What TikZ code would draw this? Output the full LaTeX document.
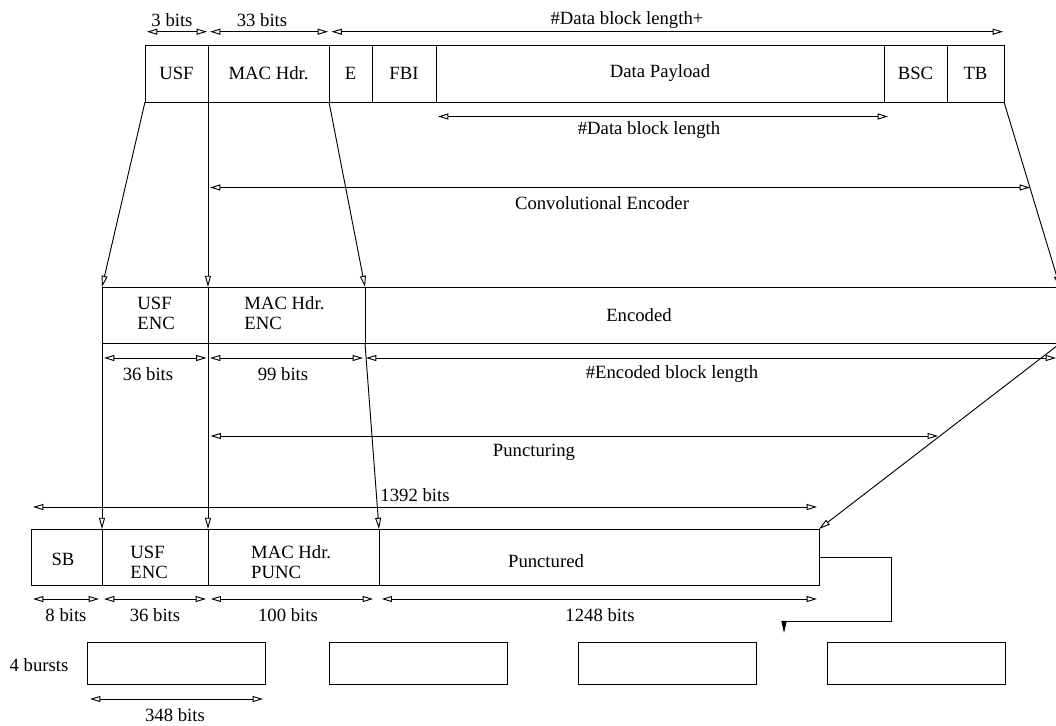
\documentclass[tikz,border=0pt]{standalone}
\usepackage{fontspec}
\setmainfont{Liberation Serif}
\usetikzlibrary{arrows.meta}

\begin{document}
\begin{tikzpicture}[x=0.535pt, y=-0.535pt, line width=0.5pt,
    font=\fontsize{10}{10.7}\selectfont,
    lbl/.style={inner sep=0pt},
    dim/.style={{Triangle[open,length=5.5pt,width=3.2pt]}-{Triangle[open,length=5.5pt,width=3.2pt]}},
    map/.style={-{Triangle[open,length=6pt,width=3.2pt]}}]
  \useasboundingbox (0,0) rectangle (1056,725);
  \clip (0,0) rectangle (1056,725);

  % Block
  \foreach \n/\x in {a/145, b/208, c/329, d/372, e/436, f/884, g/947, h/1004} {
    \coordinate (T\n) at (\x,45.5);
    \coordinate (B\n) at (\x,102);
  }
  \draw (Ta) rectangle (Bh);
  \foreach \n in {b,c,d,e,f,g} \draw (T\n) -- (B\n);
  \node[lbl] (usf) at (176.5,73) {USF};
  \node[lbl] (mac) at (268.5,73) {MAC Hdr.};
  \node[lbl] (e) at (350.5,73) {E};
  \node[lbl] (fbi) at (404,73) {FBI};
  \node[lbl] (payload) at (660,73) {Data Payload};
  \node[lbl] (bsc) at (915.5,73) {BSC};
  \node[lbl] (tb) at (975.5,73) {TB};

  % Lengths of the block
  \coordinate (l1a) at (147,31.7);   \coordinate (l1b) at (207,31.7);
  \coordinate (l2a) at (210,31.7);   \coordinate (l2b) at (328,31.7);
  \coordinate (l3a) at (331.5,31.7); \coordinate (l3b) at (1003,31.7);
  \coordinate (l4a) at (438,116.5);  \coordinate (l4b) at (888,116.5);
  \draw[dim] (l1a) -- (l1b);
  \draw[dim] (l2a) -- (l2b);
  \draw[dim] (l3a) -- (l3b);
  \draw[dim] (l4a) -- (l4b);
  \node[lbl] (usflen) at (172,20) {3 bits};
  \node[lbl] (maclen) at (262,20) {33 bits};
  \node[lbl] (datalenplus) at (627,20) {\#Data block length+};
  \node[lbl] (datalen) at (649,130) {\#Data block length};

  % Convolutional Encoder
  \coordinate (conva) at (210,187.5); \coordinate (convb) at (1030,187.5);
  \draw[dim] (conva) -- (convb);
  \node[lbl] (conv) at (602,203) {Convolutional Encoder};

  % Encoded
  \foreach \n/\x in {a/102, b/208, c/365, d/1060} {
    \coordinate (MT\n) at (\x,287);
    \coordinate (MB\n) at (\x,343.5);
  }
  \draw (MTa) rectangle (MBd);
  \draw (MTb) -- (MBb);
  \draw (MTc) -- (MBc);
  \node[lbl, align=left, anchor=west] (usfenc) at (137,313) {USF\\ENC};
  \node[lbl, align=left, anchor=west] (macenc) at (244,313) {MAC Hdr.\\ENC};
  \node[lbl] (encoded) at (639,315) {Encoded};
  \draw[map] (Ba) -- (MTa);
  \draw[map] (Bb) -- (MTb);
  \draw[map] (Bc) -- (MTc);
  \draw[map] (Bh) -- (MTd);

  \coordinate (e1a) at (104,358);   \coordinate (e1b) at (206.5,358);
  \coordinate (e2a) at (210,358);   \coordinate (e2b) at (363,358);
  \coordinate (e3a) at (366,358);   \coordinate (e3b) at (1056,358);
  \draw[dim] (e1a) -- (e1b);
  \draw[dim] (e2a) -- (e2b);
  \draw[dim] (e3a) -- (e3b);
  \node[lbl] (usfenclen) at (148,374) {36 bits};
  \node[lbl] (macenclen) at (283,374) {99 bits};
  \node[lbl] (enclen) at (672,374) {\#Encoded block length};

  % Puncturing
  \coordinate (punca) at (210.5,436); \coordinate (puncb) at (938,436);
  \draw[dim] (punca) -- (puncb);
  \node[lbl] (punc) at (534,452) {Puncturing};

  % Punctured
  \coordinate (alla) at (33,507); \coordinate (allb) at (817,507);
  \draw[dim] (alla) -- (allb);
  \node[lbl, anchor=west] (alllen) at (380,495) {1392 bits};

  \foreach \n/\x in {a/31, b/102, c/208, d/379, e/819} {
    \coordinate (PT\n) at (\x,529);
    \coordinate (PB\n) at (\x,585.5);
  }
  \draw (PTa) rectangle (PBe);
  \foreach \n in {b,c,d} \draw (PT\n) -- (PB\n);
  \node[lbl] (sb) at (63,559) {SB};
  \node[lbl, align=left, anchor=west] (usfenc2) at (130,562.5) {USF\\ENC};
  \node[lbl, align=left, anchor=west] (macpunc) at (250.7,562.5) {MAC Hdr.\\PUNC};
  \node[lbl] (punctured) at (546,561) {Punctured};
  \draw[map] (MBa) -- (PTb);
  \draw[map] (MBb) -- (PTc);
  \draw[map] (MBc) -- (PTd);
  \draw[map] (MBd) -- (PTe);

  \coordinate (p1a) at (33,599);    \coordinate (p1b) at (99,599);
  \coordinate (p2a) at (104,599);   \coordinate (p2b) at (206,599);
  \coordinate (p3a) at (210.7,599); \coordinate (p3b) at (373,599);
  \coordinate (p4a) at (381.7,599); \coordinate (p4b) at (817,599);
  \draw[dim] (p1a) -- (p1b);
  \draw[dim] (p2a) -- (p2b);
  \draw[dim] (p3a) -- (p3b);
  \draw[dim] (p4a) -- (p4b);
  \node[lbl] (sblen) at (66,615) {8 bits};
  \node[lbl] (usfpunclen) at (155,615) {36 bits};
  \node[lbl] (macpunclen) at (288,615) {100 bits};
  \node[lbl] (punclen) at (600,615) {1248 bits};

  % Bursts
  \coordinate (out) at (819,557);
  \coordinate (drop) at (784,621);
  \draw[-{Triangle[length=6.5pt,width=2.8pt]}] (out) -- (891,557) |- (drop) -- ++(0,12);
  \foreach \n/\x in {1/87, 2/329, 3/578, 4/827}
    \draw (\x,642) coordinate (burst\n) rectangle ++(178,42.5);
  \node[lbl] (bursts) at (39,665) {4 bursts};
  \coordinate (bla) at (90,699); \coordinate (blb) at (263,699);
  \draw[dim] (bla) -- (blb);
  \node[lbl] (burstlen) at (175,715) {348 bits};
\end{tikzpicture}
\end{document}
